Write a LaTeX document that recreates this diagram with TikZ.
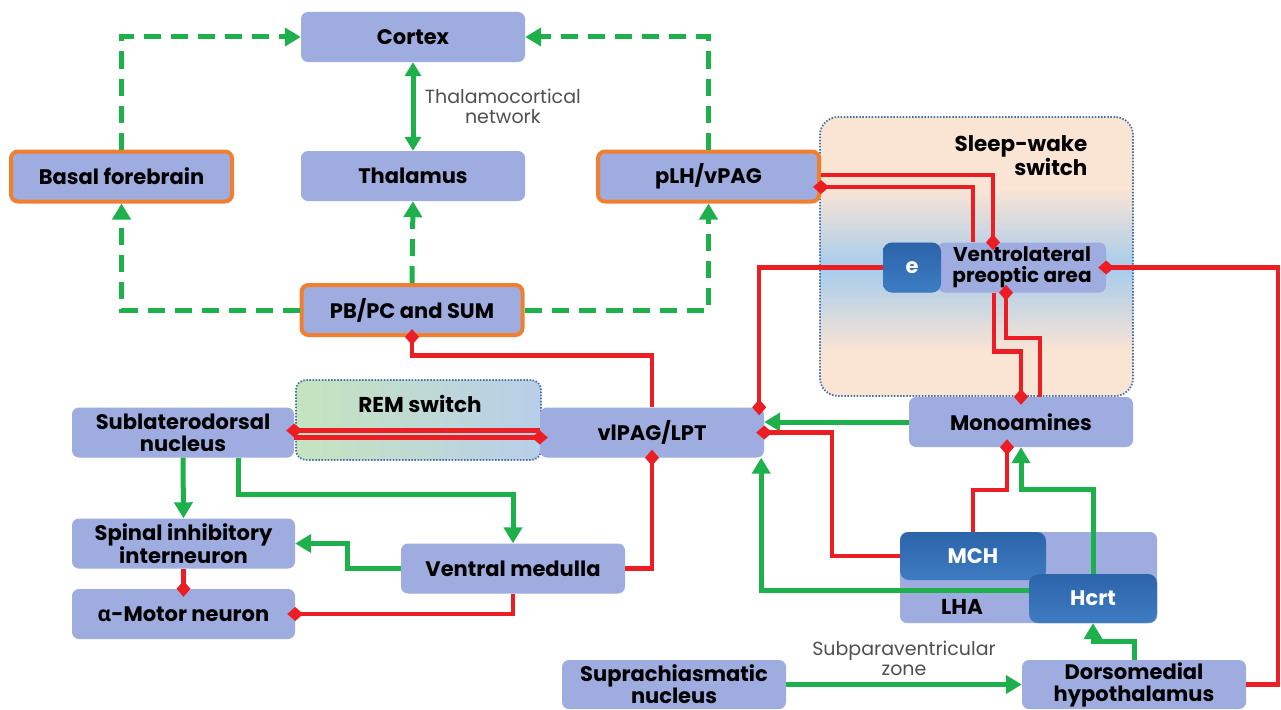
\documentclass[tikz,border=0pt]{standalone}
\usepackage{fontspec}
\setmainfont{Poppins}
\newfontfamily\greekfont{Open Sans}
\usepackage{xcolor}
\usetikzlibrary{arrows.meta}

\definecolor{boxblue}{RGB}{158,172,224}
\definecolor{deepblue}{RGB}{44,100,170}
\definecolor{deepbluelt}{RGB}{62,124,194}
\definecolor{wakeorange}{RGB}{240,128,48}
\definecolor{actgreen}{RGB}{30,176,74}
\definecolor{inhred}{RGB}{236,30,36}
\definecolor{peach}{RGB}{250,228,212}
\definecolor{skyblue}{RGB}{166,204,236}
\definecolor{remgreen}{RGB}{198,228,190}
\definecolor{remblue}{RGB}{184,206,234}
\definecolor{framebl}{RGB}{70,112,168}
\definecolor{notegray}{RGB}{80,80,80}

\pgfdeclareverticalshading{swshade}{100bp}{color(0bp)=(peach); color(33bp)=(peach);
  color(48bp)=(skyblue); color(62bp)=(peach); color(100bp)=(peach)}

\tikzset{
  box/.style={rounded corners=7pt, fill=boxblue, minimum width=224pt,
    minimum height=50pt, align=center, inner sep=2pt,
    font=\bfseries\fontsize{21}{22}\selectfont},
  wakebox/.style={box, draw=wakeorange, line width=4pt,
    minimum width=221pt, minimum height=50pt},
  darkbox/.style={box, rounded corners=9pt, top color=deepblue,
    bottom color=deepbluelt, text=white},
  frametext/.style={font=\bfseries\fontsize{21.5}{22.5}\selectfont, align=center},
  note/.style={font=\fontsize{19}{20}\selectfont, text=notegray, align=center},
  switchframe/.style={rounded corners=18pt, draw=framebl, line width=1.8pt,
    dash pattern=on 1.5pt off 1.6pt},
  excite/.style={draw=actgreen, line width=5pt,
    -{Triangle[length=16pt,width=18pt]}},
  excitedash/.style={excite, dash pattern=on 17pt off 10pt},
  inhibit/.style={draw=inhred, line width=4.5pt,
    -{Diamond[length=16pt,width=14pt]}, shorten >=-8pt}
}

\begin{document}
\begin{tikzpicture}[x=1pt, y=-1pt]
  \path[use as bounding box, fill=white] (0,0) rectangle (1281,709);

  % switch areas
  \node[switchframe, shading=swshade, minimum width=313pt, minimum height=279pt]
    (sws) at (976.5,256.5) {};
  \node[frametext, align=right, anchor=east] (swstext) at (1091,156) {Sleep-wake\\switch};
  \node[switchframe, rounded corners=10pt, left color=remgreen, right color=remblue,
    minimum width=245pt, minimum height=80pt] (rem) at (418.5,420) {};
  \node[frametext] (remtext) at (420,404) {REM switch};

  % nodes
  \node[box] (cortex) at (413,37) {Cortex};
  \node[box] (thal) at (413,176) {Thalamus};
  \node[wakebox] (bf) at (121.5,176.5) {Basal forebrain};
  \node[wakebox] (plh) at (708.5,176.5) {pLH/vPAG};
  \node[wakebox] (pb) at (412,310) {PB/PC and SUM};
  \node[box, minimum width=168pt, font=\bfseries\fontsize{20}{21.5}\selectfont]
    (vlpo) at (1022,267.5) {Ventrolateral\\preoptic area};
  \node[darkbox, minimum width=58pt] (e) at (912,267.5) {e};
  \node[box] (mono) at (1021,422) {Monoamines};
  \node[box, minimum width=222pt] (sld) at (183,432.5) {Sublaterodorsal\\nucleus};
  \node[box] (vlpag) at (652,432.5) {vlPAG/LPT};
  \node[box, minimum width=223pt] (spinal) at (183.5,543.5) {Spinal inhibitory\\interneuron};
  \node[box] (vm) at (513,568.5) {Ventral medulla};
  \node[box, minimum width=223pt] (motor) at (183.5,614) {{\greekfont α}-Motor neuron};
  \node[box, minimum width=257pt, minimum height=91pt] (lha) at (1028.5,577.5) {};
  \node[frametext] (lhatext) at (962,607) {LHA};
  \node[darkbox, minimum width=146pt, minimum height=48pt] (mch) at (973,556) {MCH};
  \node[darkbox, minimum width=128pt, minimum height=49pt] (hcrt) at (1093,598.5) {Hcrt};
  \node[box, minimum height=49pt] (scn) at (674,684.5) {Suprachiasmatic\\nucleus};
  \node[box, minimum height=49pt] (dmh) at (1134,684.5) {Dorsomedial\\hypothalamus};

  % arousal system
  \draw[excitedash] (bf.north) |- (cortex.west);
  \draw[excitedash] (plh.north) |- (cortex.east);
  \draw[excitedash] (pb.west) -| (bf.south);
  \draw[excitedash] (pb.north) -- (thal.south);
  \draw[excitedash] (pb.east) -| (plh.south);
  \draw[excite, {Triangle[length=14pt,width=16pt]}-{Triangle[length=14pt,width=16pt]}]
    (cortex.south) -- node[note, right=6pt] {Thalamocortical\\network} (thal.north);

  % sleep-wake switch
  \draw[inhibit] ([yshift=1.5pt]plh.east) -| ([xshift=-29pt]vlpo.north);
  \draw[inhibit] ([xshift=-49pt]vlpo.north) |- ([yshift=-10.5pt]plh.east);
  \draw[inhibit] (e.west) -| ([xshift=-5pt]vlpag.north east);
  \draw[inhibit] (dmh.east) -- ++(32,0) |- (vlpo.east);
  \draw[inhibit] ([xshift=19pt]mono.north) -- ++(0,-59) -| ([xshift=-16pt]vlpo.south);
  \draw[inhibit] ([xshift=-28pt]vlpo.south) -- ++(0,59) -| (mono.north);

  % REM switch
  \draw[inhibit] ([yshift=2pt]vlpag.west) -- ([yshift=2pt]sld.east);
  \draw[inhibit] ([yshift=-5pt]sld.east) -- ([yshift=-5pt]vlpag.west);
  \draw[inhibit] (vlpag.north) -- ++(0,-52) -| (pb.south);
  \draw[inhibit] (vm.east) -| (vlpag.south);
  \draw[excite] (sld.south) -- (spinal.north);
  \draw[excite] ([xshift=55pt]sld.south) -- ++(0,37) -| (vm.north);
  \draw[excite] (vm.west) -- ++(-53,0) |- (spinal.east);
  \draw[inhibit] (spinal.south) -- (motor.north);
  \draw[inhibit] (vm.south) |- (motor.east);

  % hypothalamus
  \draw[excite] (mono.west) -- ([yshift=10.5pt]vlpag.east);
  \draw[inhibit] (mch.west) -- ++(-68,0) |- (vlpag.east);
  \draw[excite] ([yshift=8.5pt]hcrt.west) -| ([xshift=-3pt]vlpag.south east);
  \draw[inhibit] (mch.north) -- ++(0,-42) -| ([xshift=-14pt]mono.south);
  \draw[excite] (hcrt.north) -- ++(0,-84) -| (mono.south);
  \draw[excite] (dmh.north) -- ++(0,-18) -| (hcrt.south);
  \draw[excite] (scn.east) -- node[note, above=3pt] {Subparaventricular\\zone} (dmh.west);
\end{tikzpicture}
\end{document}
